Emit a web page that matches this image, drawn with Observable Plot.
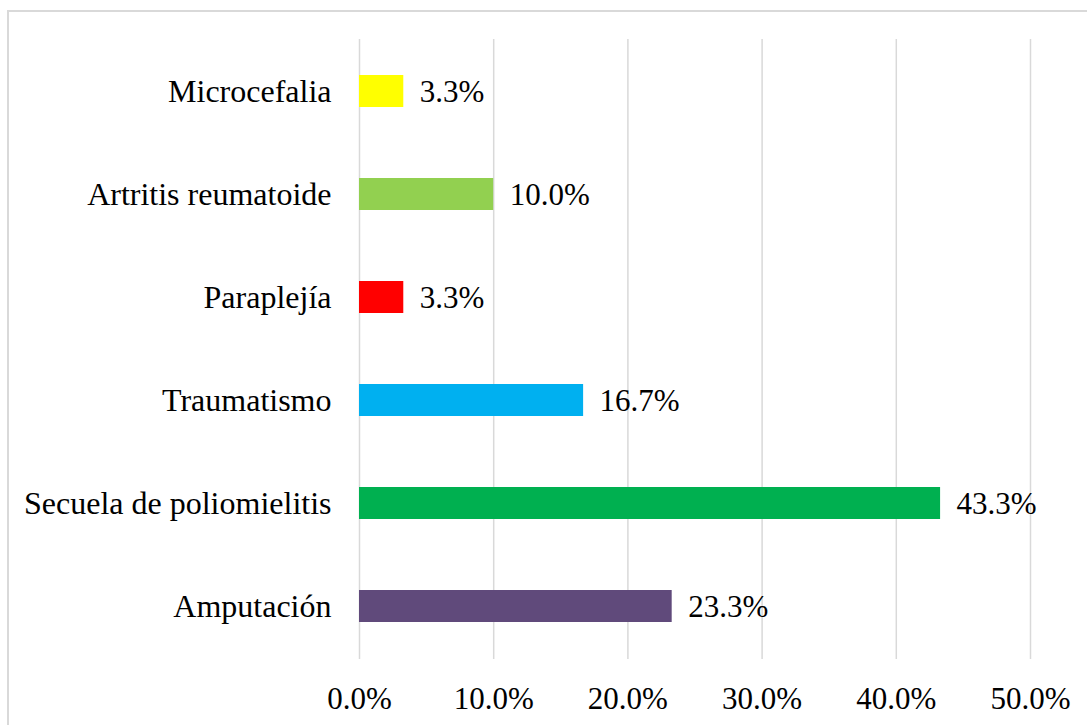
<!DOCTYPE html>
<html>
<head>
<meta charset="utf-8">
<script src="https://cdn.jsdelivr.net/npm/d3@7"></script>
<script src="https://cdn.jsdelivr.net/npm/@observablehq/plot@0.6"></script>
<style>
  html, body { margin: 0; padding: 0; background: #fff; overflow: hidden; }
  #wrap { position: relative; width: 1087px; height: 725px; }
  #frame { position: absolute; left: 7px; top: 10px; width: 1100px; height: 800px; border: 2px solid #d9d9d9; box-sizing: border-box; }
  #chart { position: absolute; left: 0; top: 0; }
  #chart svg { background: transparent; }
</style>
</head>
<body>
<div id="wrap">
  <div id="frame"></div>
  <div id="chart"></div>
</div>
<script>
const categories = ["Microcefalia", "Artritis reumatoide", "Paraplejía", "Traumatismo", "Secuela de poliomielitis", "Amputación"];
const values = [3.3, 10.0, 3.3, 16.7, 43.3, 23.3];
const colors = ["#FFFF00", "#92D050", "#FF0000", "#00B0F0", "#00B050", "#604A7B"];
const xTicks = [0, 10, 20, 30, 40, 50];

const data = categories.map((c, i) => ({category: c, value: values[i], color: colors[i]}));
const fontFamily = "'Liberation Serif', 'Times New Roman', serif";

const chart = Plot.plot({
  width: 1087,
  height: 725,
  marginLeft: 359,
  marginRight: 57,
  marginTop: 39,
  marginBottom: 66,
  style: {fontFamily, fontSize: "31px", color: "#000", background: "transparent"},
  x: {domain: [0, 50], ticks: xTicks, tickFormat: d => d.toFixed(1) + "%", label: null},
  y: {domain: categories, paddingInner: 0.686, paddingOuter: 0.343, label: null},
  marks: [
    Plot.gridX(xTicks, {stroke: "#d9d9d9", strokeOpacity: 1, strokeWidth: 1.5}),
    Plot.barX(data, {x: "value", y: "category", fill: "color"}),
    Plot.text(data, {x: "value", y: "category", text: d => d.value.toFixed(1) + "%", textAnchor: "start", dx: 16, dy: 1, fill: "#000", fontSize: 31}),
    Plot.axisX(xTicks, {tickSize: 0, tickPadding: 27, fontSize: 31, tickFormat: d => d.toFixed(1) + "%", label: null}),
    Plot.axisY({tickSize: 0, tickPadding: 28, fontSize: 32, label: null})
  ]
});
document.getElementById("chart").appendChild(chart);
</script>
</body>
</html>
